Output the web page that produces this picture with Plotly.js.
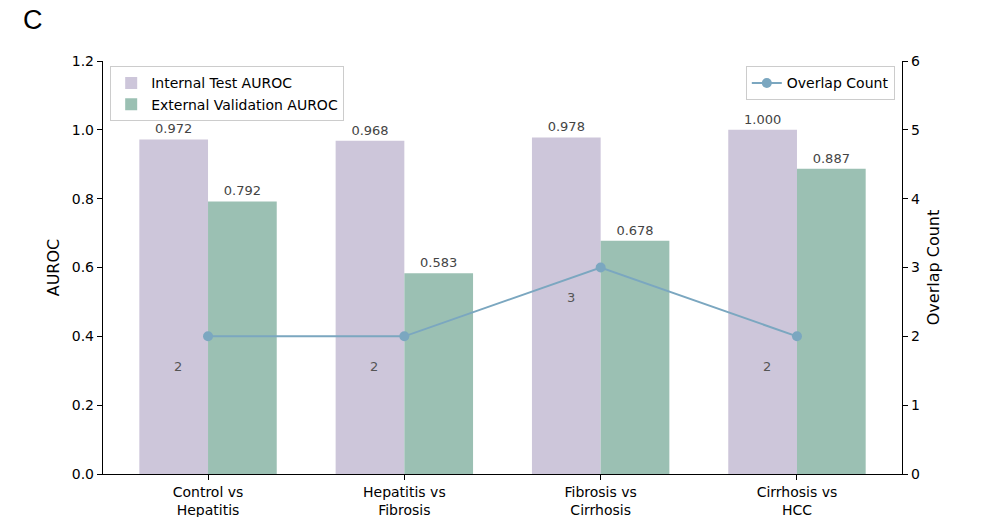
<!DOCTYPE html>
<html>
<head>
<meta charset="utf-8">
<script src="https://cdn.plot.ly/plotly-3.0.1.min.js"></script>
<style>
  body { margin: 0; background: #fff; }
  #chart { width: 998px; height: 517px; }
</style>
</head>
<body>
<div id="chart"></div>
<script>
var categories = ['Control vs<br>Hepatitis', 'Hepatitis vs<br>Fibrosis', 'Fibrosis vs<br>Cirrhosis', 'Cirrhosis vs<br>HCC'];
var internal_auroc = [0.972, 0.968, 0.978, 1.000];
var external_auroc = [0.792, 0.583, 0.678, 0.887];
var overlap_count = [2, 2, 3, 2];

var xs = categories.map((c, i) => i);
var font = 'DejaVu Sans, sans-serif';

var trace_int = {
  x: xs.map(i => i - 0.175), y: internal_auroc, type: 'bar', width: 0.35,
  name: 'Internal Test AUROC',
  marker: {color: '#cdc6da'},
  texttemplate: '%{y:.3f}', textposition: 'outside',
  textfont: {family: font, size: 13, color: '#444'},
  cliponaxis: false, hoverinfo: 'skip'
};
var trace_ext = {
  x: xs.map(i => i + 0.175), y: external_auroc, type: 'bar', width: 0.35,
  name: 'External Validation AUROC',
  marker: {color: '#9bc0b3'},
  texttemplate: '%{y:.3f}', textposition: 'outside',
  textfont: {family: font, size: 13, color: '#444'},
  cliponaxis: false, hoverinfo: 'skip'
};
var trace_cnt = {
  x: xs, y: overlap_count, type: 'scatter', mode: 'lines+markers',
  name: 'Overlap Count', yaxis: 'y2', legend: 'legend2',
  line: {color: '#7ba7c0', width: 2},
  marker: {color: '#7ba7c0', size: 10},
  cliponaxis: false
};

// count labels, offset down-left of each point
var notes = overlap_count.map((c, i) => ({
  x: i, y: c, xref: 'x', yref: 'y2', text: String(c), showarrow: false,
  xshift: -30, yshift: -30,
  font: {family: font, size: 13, color: '#555'}
}));
// panel letter
notes.push({
  xref: 'paper', yref: 'paper', x: -0.103, y: 1.099, xanchor: 'left', yanchor: 'middle',
  text: 'C', showarrow: false,
  font: {family: 'Liberation Sans, Arial, sans-serif', size: 27, color: '#000'}
});

var layout = {
  width: 998, height: 517,
  margin: {l: 103, r: 96, t: 61, b: 43},
  paper_bgcolor: '#fff', plot_bgcolor: '#fff',
  font: {family: font, size: 14, color: '#000'},
  barmode: 'overlay',
  showlegend: true,
  xaxis: {
    range: [-0.535, 3.535], tickvals: xs, ticktext: categories,
    showgrid: false, zeroline: false, showline: true, linecolor: '#000', linewidth: 1.2,
    ticks: 'outside', ticklen: 5, tickcolor: '#000',
    tickfont: {family: font, size: 14, color: '#000'}
  },
  yaxis: {
    range: [0, 1.2], dtick: 0.2, tickformat: '.1f',
    showgrid: false, zeroline: false, showline: true, linecolor: '#000', linewidth: 1.2,
    ticks: 'outside', ticklen: 5, tickcolor: '#000',
    title: {text: 'AUROC', font: {family: font, size: 16}, standoff: 8},
    tickfont: {family: font, size: 14, color: '#000'}
  },
  yaxis2: {
    overlaying: 'y', side: 'right', range: [0, 6], dtick: 1,
    showgrid: false, zeroline: false, showline: true, linecolor: '#000', linewidth: 1.2,
    ticks: 'outside', ticklen: 5, tickcolor: '#000',
    title: {text: 'Overlap Count', font: {family: font, size: 16}, standoff: 8},
    tickfont: {family: font, size: 14, color: '#000'}
  },
  legend: {
    x: 0.009, y: 0.987, xanchor: 'left', yanchor: 'top',
    bgcolor: 'rgba(255,255,255,0.8)', bordercolor: '#ccc', borderwidth: 1,
    font: {family: font, size: 14, color: '#000'}, tracegroupgap: 0,
    itemwidth: 30
  },
  legend2: {
    x: 0.991, y: 0.987, xanchor: 'right', yanchor: 'top',
    bgcolor: 'rgba(255,255,255,0.8)', bordercolor: '#ccc', borderwidth: 1,
    font: {family: font, size: 14, color: '#000'}
  },
  annotations: notes
};

Plotly.newPlot('chart', [trace_int, trace_ext, trace_cnt], layout, {displayModeBar: false, staticPlot: true});
</script>
</body>
</html>
